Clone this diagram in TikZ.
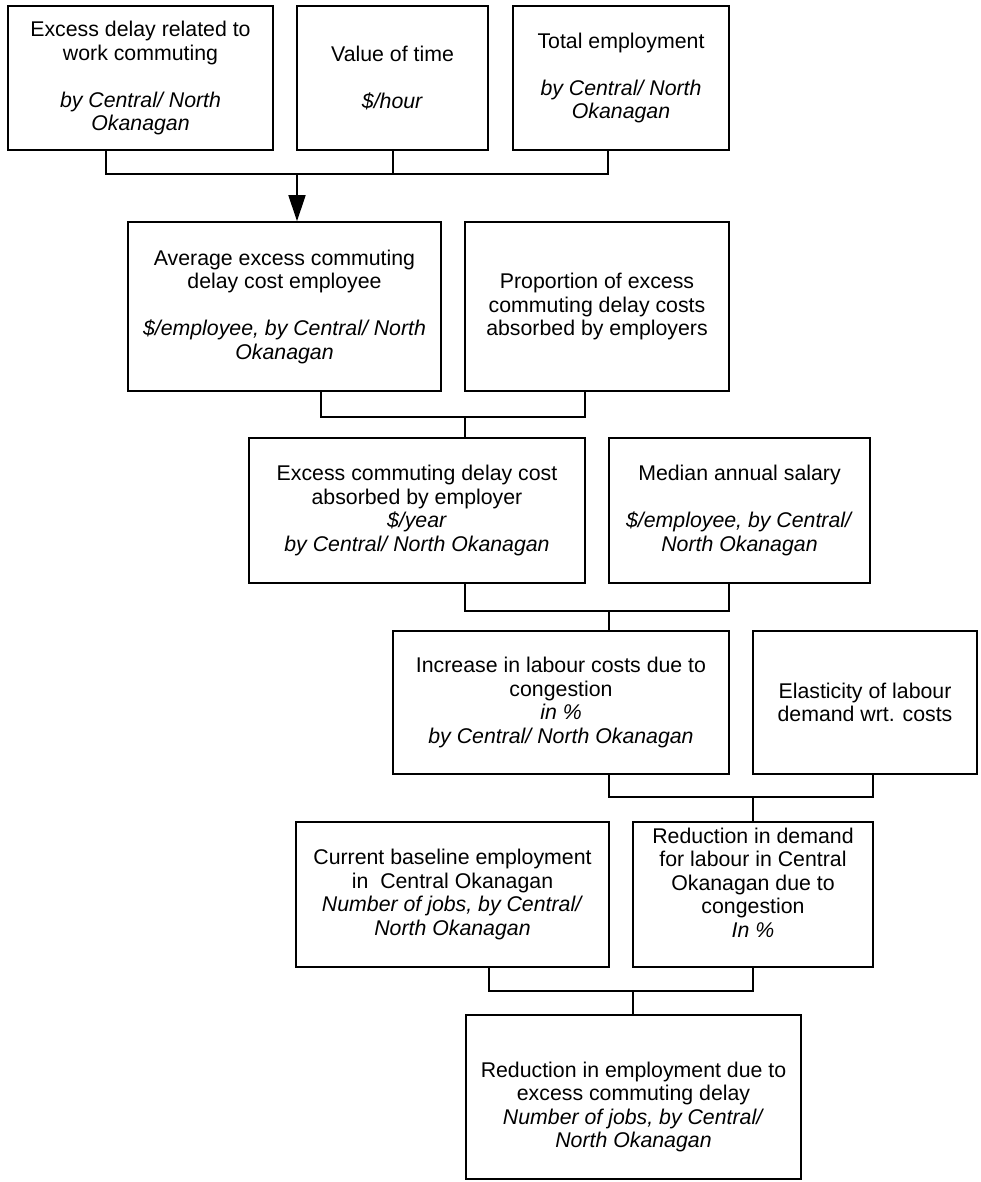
\documentclass[tikz,border=0pt]{standalone}
\usepackage{fontspec}
\setmainfont{Liberation Sans}
\usetikzlibrary{arrows.meta}
\begin{document}
\begin{tikzpicture}[x=1pt, y=-1pt, line width=1.6pt,
  font=\fontsize{21.3pt}{23.5pt}\selectfont,
  box/.style args={#1/#2}{draw, align=center, inner sep=0pt, minimum width=#1pt, minimum height=#2pt}]
\useasboundingbox (0,0) rectangle (980,1182);
\node[box=265/144] (exdelay) at (140.5,78) {Excess delay related to\\work commuting\\[23.5pt]\textit{by Central/ North}\\\textit{Okanagan}};
\node[box=191/144] (valtime) at (392.5,78) {Value of time\\[23.5pt]\textit{\$/hour}};
\node[box=216/144] (totemp) at (621,78) {Total employment\\[23.5pt]\textit{by Central/ North}\\\textit{Okanagan}};
\node[box=313/169] (avgcost) at (284.5,306.5) {Average excess commuting\\delay cost employee\\[23.5pt]\textit{\$/employee, by Central/ North}\\\textit{Okanagan}};
\node[box=264/169] (propabs) at (597,306.5) {Proportion of excess\\commuting delay costs\\absorbed by employers};
\node[box=336/145] (abscost) at (417,510.5) {Excess commuting delay cost\\absorbed by employer\\\textit{\$/year}\\\textit{by Central/ North Okanagan}};
\node[box=261/145] (salary) at (739.5,510.5) {Median annual salary\\[23.5pt]\textit{\$/employee, by Central/}\\\textit{North Okanagan}};
\node[box=336/143] (labinc) at (561,702.5) {Increase in labour costs due to\\congestion\\\textit{in \%}\\\textit{by Central/ North Okanagan}};
\node[box=224/143] (elast) at (865,702.5) {Elasticity of labour\\demand wrt. costs};
\node[box=313/145] (baseemp) at (452.5,894.5) {Current baseline employment\\in\ \ Central Okanagan\\\textit{Number of jobs, by Central/}\\\textit{North Okanagan}};
\node[box=240/145] (demred) at (753,894.5) {Reduction in demand\\for labour in Central\\Okanagan due to\\congestion\\\textit{In \%}\\\mbox{}};
\node[box=335/164] (empred) at (633.5,1097) {\mbox{}\\[12pt]Reduction in employment due to\\excess commuting delay\\\textit{Number of jobs, by Central/}\\\textit{North Okanagan}};
\coordinate (j1) at (297,174);
\coordinate (j2) at (465,417);
\coordinate (j3) at (609,611);
\coordinate (j4) at (753,797);
\coordinate (j5) at (633,991);
\draw ([xshift=-34.5pt]exdelay.south) |- (j1) -| ([xshift=-13pt]totemp.south);
\draw ([xshift=0.5pt]valtime.south) -- ([xshift=0.5pt]valtime.south |- j1);
\draw[-{Triangle[width=17pt,length=26pt]}] (j1) -- (j1 |- avgcost.north);
\draw ([xshift=36.5pt]avgcost.south) |- (j2) -| ([xshift=-12pt]propabs.south);
\draw (j2) -- (j2 |- abscost.north);
\draw ([xshift=48pt]abscost.south) |- (j3) -| ([xshift=-10.5pt]salary.south);
\draw (j3) -- (j3 |- labinc.north);
\draw ([xshift=48pt]labinc.south) |- (j4) -| ([xshift=8pt]elast.south);
\draw (j4) -- (j4 |- demred.north);
\draw ([xshift=36.5pt]baseemp.south) |- (j5) -| (demred.south);
\draw (j5) -- (j5 |- empred.north);
\end{tikzpicture}
\end{document}
